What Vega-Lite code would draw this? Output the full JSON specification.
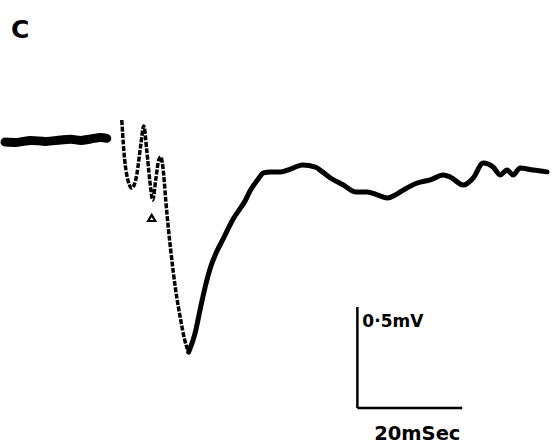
{
  "$schema": "https://vega.github.io/schema/vega-lite/v6.json",
  "width": 554,
  "height": 447,
  "autosize": {"type": "fit", "contains": "padding"},
  "padding": 0,
  "background": "white",
  "config": {"view": {"stroke": null}},
  "datasets": {
    "trace": [
      {"seg": "base", "t": 0.76, "v": -0.010},
      {"seg": "base", "t": 2.86, "v": -0.012},
      {"seg": "base", "t": 5.71, "v": -0.002},
      {"seg": "base", "t": 8.57, "v": -0.007},
      {"seg": "base", "t": 11.43, "v": 0.000},
      {"seg": "base", "t": 13.33, "v": 0.003},
      {"seg": "base", "t": 15.24, "v": -0.002},
      {"seg": "base", "t": 17.14, "v": 0.005},
      {"seg": "base", "t": 19.05, "v": 0.012},
      {"seg": "base", "t": 20.19, "v": 0.008},
      {"seg": "fast", "t": 23.05, "v": 0.099},
      {"seg": "fast", "t": 23.43, "v": -0.050},
      {"seg": "fast", "t": 24.00, "v": -0.173},
      {"seg": "fast", "t": 24.95, "v": -0.238},
      {"seg": "fast", "t": 25.90, "v": -0.173},
      {"seg": "fast", "t": 26.67, "v": -0.025},
      {"seg": "fast", "t": 27.24, "v": 0.069},
      {"seg": "fast", "t": 27.81, "v": -0.050},
      {"seg": "fast", "t": 28.38, "v": -0.198},
      {"seg": "fast", "t": 28.95, "v": -0.297},
      {"seg": "fast", "t": 29.52, "v": -0.198},
      {"seg": "fast", "t": 30.10, "v": -0.099},
      {"seg": "fast", "t": 30.48, "v": -0.084},
      {"seg": "fast", "t": 31.05, "v": -0.173},
      {"seg": "fast", "t": 31.43, "v": -0.297},
      {"seg": "fast", "t": 32.38, "v": -0.545},
      {"seg": "fast", "t": 33.33, "v": -0.743},
      {"seg": "fast", "t": 34.29, "v": -0.891},
      {"seg": "fast", "t": 35.05, "v": -0.990},
      {"seg": "fast", "t": 35.81, "v": -1.050},
      {"seg": "slow", "t": 35.81, "v": -1.050},
      {"seg": "slow", "t": 36.95, "v": -0.965},
      {"seg": "slow", "t": 38.10, "v": -0.827},
      {"seg": "slow", "t": 39.05, "v": -0.718},
      {"seg": "slow", "t": 40.00, "v": -0.629},
      {"seg": "slow", "t": 41.14, "v": -0.554},
      {"seg": "slow", "t": 42.29, "v": -0.495},
      {"seg": "slow", "t": 44.19, "v": -0.396},
      {"seg": "slow", "t": 46.67, "v": -0.297},
      {"seg": "slow", "t": 47.62, "v": -0.248},
      {"seg": "slow", "t": 48.95, "v": -0.198},
      {"seg": "slow", "t": 50.10, "v": -0.163},
      {"seg": "slow", "t": 51.43, "v": -0.158},
      {"seg": "slow", "t": 53.33, "v": -0.158},
      {"seg": "slow", "t": 55.24, "v": -0.144},
      {"seg": "slow", "t": 57.52, "v": -0.124},
      {"seg": "slow", "t": 60.00, "v": -0.134},
      {"seg": "slow", "t": 61.33, "v": -0.158},
      {"seg": "slow", "t": 62.86, "v": -0.188},
      {"seg": "slow", "t": 65.33, "v": -0.223},
      {"seg": "slow", "t": 67.62, "v": -0.257},
      {"seg": "slow", "t": 69.90, "v": -0.257},
      {"seg": "slow", "t": 71.81, "v": -0.272},
      {"seg": "slow", "t": 73.71, "v": -0.287},
      {"seg": "slow", "t": 75.24, "v": -0.272},
      {"seg": "slow", "t": 76.76, "v": -0.248},
      {"seg": "slow", "t": 79.43, "v": -0.213},
      {"seg": "slow", "t": 81.90, "v": -0.198},
      {"seg": "slow", "t": 84.38, "v": -0.173},
      {"seg": "slow", "t": 85.71, "v": -0.183},
      {"seg": "slow", "t": 88.19, "v": -0.223},
      {"seg": "slow", "t": 90.10, "v": -0.188},
      {"seg": "slow", "t": 92.00, "v": -0.114},
      {"seg": "slow", "t": 93.90, "v": -0.134},
      {"seg": "slow", "t": 95.24, "v": -0.173},
      {"seg": "slow", "t": 96.57, "v": -0.149},
      {"seg": "slow", "t": 97.71, "v": -0.173},
      {"seg": "slow", "t": 99.05, "v": -0.139},
      {"seg": "slow", "t": 101.52, "v": -0.149},
      {"seg": "slow", "t": 104.19, "v": -0.158}
    ],
    "bars": [
      {"t": 68.0, "t2": 68.0, "v": -0.827, "v2": -1.327},
      {"t": 68.0, "t2": 88.0, "v": -1.327, "v2": -1.327}
    ],
    "labels": [
      {"t": 68.95, "v": -0.901, "text": "0·5mV", "size": 17},
      {"t": 71.2, "v": -1.455, "text": "20mSec", "size": 19.5},
      {"t": 1.9, "v": 0.545, "text": "C", "size": 25}
    ],
    "marker": [
      {"t": 28.76, "v": -0.386}
    ]
  },
  "layer": [
    {
      "data": {"name": "trace"},
      "transform": [{"filter": "datum.seg === 'base'"}],
      "mark": {"type": "line", "color": "black", "strokeWidth": 9, "strokeCap": "round", "strokeJoin": "round", "interpolate": "monotone"},
      "encoding": {
        "x": {"field": "t", "type": "quantitative", "scale": {"domain": [0, 105.52], "nice": false, "zero": false}, "axis": null},
        "y": {"field": "v", "type": "quantitative", "scale": {"domain": [-1.52, 0.693], "nice": false, "zero": false}, "axis": null},
        "order": {"field": "t", "type": "quantitative"}
      }
    },
    {
      "data": {"name": "trace"},
      "transform": [{"filter": "datum.seg === 'slow'"}],
      "mark": {"type": "line", "color": "black", "strokeWidth": 5, "strokeCap": "round", "strokeJoin": "round", "interpolate": "monotone"},
      "encoding": {
        "x": {"field": "t", "type": "quantitative"},
        "y": {"field": "v", "type": "quantitative"},
        "order": {"field": "t", "type": "quantitative"}
      }
    },
    {
      "data": {"name": "trace"},
      "transform": [{"filter": "datum.seg === 'fast'"}],
      "mark": {"type": "line", "color": "black", "strokeWidth": 3.5, "strokeDash": [5, 1.5], "interpolate": "monotone"},
      "encoding": {
        "x": {"field": "t", "type": "quantitative"},
        "y": {"field": "v", "type": "quantitative"},
        "order": {"field": "t", "type": "quantitative"}
      }
    },
    {
      "data": {"name": "bars"},
      "mark": {"type": "rule", "color": "black", "strokeWidth": 2.5},
      "encoding": {
        "x": {"field": "t", "type": "quantitative"},
        "x2": {"field": "t2"},
        "y": {"field": "v", "type": "quantitative"},
        "y2": {"field": "v2"}
      }
    },
    {
      "data": {"name": "labels"},
      "mark": {"type": "text", "align": "left", "baseline": "middle", "font": "DejaVu Sans", "fontWeight": "bold", "color": "black"},
      "encoding": {
        "x": {"field": "t", "type": "quantitative"},
        "y": {"field": "v", "type": "quantitative"},
        "text": {"field": "text"},
        "size": {"field": "size", "type": "quantitative", "scale": null, "legend": null}
      }
    },
    {
      "data": {"name": "marker"},
      "mark": {"type": "point", "shape": "triangle-up", "filled": false, "color": "black", "opacity": 1, "strokeWidth": 2.2, "size": 50},
      "encoding": {
        "x": {"field": "t", "type": "quantitative"},
        "y": {"field": "v", "type": "quantitative"}
      }
    }
  ]
}
